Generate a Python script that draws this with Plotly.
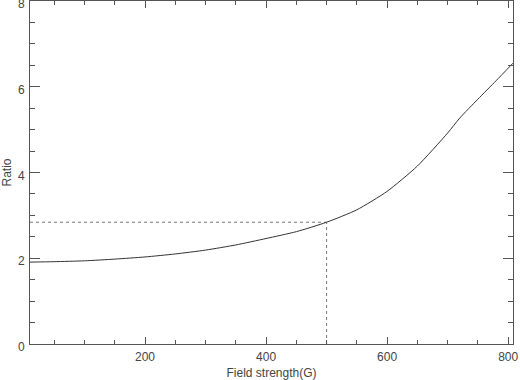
import plotly.graph_objects as go

# field strength (G) and ratio
field = [10, 50, 100, 150, 200, 250, 300, 350, 400, 450, 500, 550, 600, 650, 700, 720, 750, 780, 808]
ratio = [1.91, 1.92, 1.94, 1.98, 2.03, 2.10, 2.19, 2.31, 2.46, 2.62, 2.84, 3.13, 3.56, 4.15, 4.92, 5.27, 5.71, 6.14, 6.55]

# marked point
mark_x = 500
mark_y = 2.84

x_ticks = [200, 400, 600, 800]
y_ticks = [0, 2, 4, 6, 8]

axcol = "#555555"
fnt = dict(family="Liberation Sans", size=12, color="#444444")

fig = go.Figure()
fig.add_trace(go.Scatter(x=[field[0], mark_x], y=[mark_y, mark_y], mode="lines",
                         line=dict(color="#777777", width=1, dash="dot")))
fig.add_trace(go.Scatter(x=[mark_x, mark_x], y=[0, mark_y], mode="lines",
                         line=dict(color="#777777", width=1, dash="dot")))
fig.add_trace(go.Scatter(x=field, y=ratio, mode="lines",
                         line=dict(color="#333333", width=1, shape="spline", smoothing=0.6)))

fig.update_layout(
    width=520, height=380,
    margin=dict(l=30, r=7, t=1, b=36),
    plot_bgcolor="white", paper_bgcolor="white",
    showlegend=False,
    font=fnt,
)
fig.update_xaxes(
    range=[10, 808], tickvals=x_ticks, showgrid=False, zeroline=False,
    showline=True, linecolor=axcol, linewidth=1, mirror="ticks",
    ticks="inside", ticklen=7, tickcolor=axcol, tickwidth=1,
    minor=dict(dtick=50, tick0=0, ticks="inside", ticklen=4, tickcolor=axcol, showgrid=False),
    title=dict(text="Field strength(G)", font=fnt),
    ticklabelstandoff=2, automargin=False, ticklabeloverflow="allow",
)
fig.update_yaxes(
    range=[0, 8], tickvals=y_ticks, showgrid=False, zeroline=False,
    showline=True, linecolor=axcol, linewidth=1, mirror="ticks",
    ticks="inside", ticklen=10, tickcolor=axcol, tickwidth=1,
    minor=dict(dtick=0.5, tick0=0, ticks="inside", ticklen=5, tickcolor=axcol, showgrid=False),
    title=dict(text="Ratio", font=fnt),
    ticklabelstandoff=2, ticklabelshift=3, automargin=False, ticklabeloverflow="allow",
)

# browser default body margin would shift the figure by 8px
fig.write_html("out.html", config={"displayModeBar": False},
               post_script="document.body.style.margin='0';")
